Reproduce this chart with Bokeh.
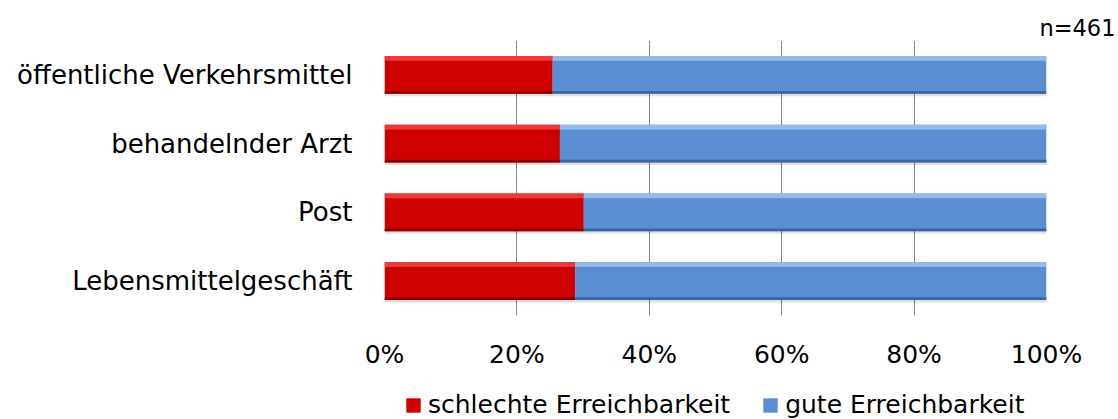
from bokeh.plotting import figure
from bokeh.layouts import column
from bokeh.models import (Range1d, FactorRange, FixedTicker, Legend, LegendItem,
                          Title, ColumnDataSource)
from bokeh.transform import dodge
from bokeh.embed import file_html
from bokeh.resources import INLINE

# ---- data ----
categories = ["Lebensmittelgeschäft", "Post", "behandelnder Arzt", "öffentliche Verkehrsmittel"]
schlecht = [28.8, 30.1, 26.5, 25.4]
gut = [71.2, 69.9, 73.5, 74.6]
series_names = ["schlechte Erreichbarkeit", "gute Erreichbarkeit"]
tick_values = [0, 20, 40, 60, 80, 100]
tick_labels = ["0%", "20%", "40%", "60%", "80%", "100%"]
n_label = "n=461"

FONT = "DejaVu Sans"
RED, RED_HI, RED_LO = "#CE0000", "#EC3A3A", "#8E0000"
BLUE, BLUE_HI, BLUE_LO = "#5A8ED3", "#93BAE8", "#3C66A0"

left_red = [0] * len(categories)
right_red = schlecht
left_blue = schlecht
right_blue = [a + b for a, b in zip(schlecht, gut)]

src = ColumnDataSource(dict(cat=categories, lr=left_red, rr=right_red,
                            lb=left_blue, rb=right_blue))

p = figure(width=1118, height=385, output_backend="svg", toolbar_location=None,
           x_range=Range1d(0, 100), y_range=FactorRange(factors=categories, range_padding=0),
           min_border_left=384, min_border_right=72, min_border_top=40, min_border_bottom=70)
p.outline_line_color = None
p.background_fill_color = "white"
p.border_fill_color = "white"

BH = 0.55
# soft shadow
for l, r in (("lr", "rr"), ("lb", "rb")):
    p.hbar(y=dodge("cat", -0.035, range=p.y_range), left=l, right=r, height=BH,
           source=src, fill_color="#000000", fill_alpha=0.12, line_color=None)

p.hbar(y="cat", left="lr", right="rr", height=BH, source=src,
       fill_color=RED, line_color=None)
p.hbar(y="cat", left="lb", right="rb", height=BH, source=src,
       fill_color=BLUE, line_color=None)
# bevel highlights / shades
p.hbar(y=dodge("cat", BH / 2 - 0.035, range=p.y_range), left="lr", right="rr", height=0.07,
       source=src, fill_color=RED_HI, line_color=None)
p.hbar(y=dodge("cat", BH / 2 - 0.035, range=p.y_range), left="lb", right="rb", height=0.07,
       source=src, fill_color=BLUE_HI, line_color=None)
p.hbar(y=dodge("cat", -BH / 2 + 0.02, range=p.y_range), left="lr", right="rr", height=0.04,
       source=src, fill_color=RED_LO, line_color=None)
p.hbar(y=dodge("cat", -BH / 2 + 0.02, range=p.y_range), left="lb", right="rb", height=0.04,
       source=src, fill_color=BLUE_LO, line_color=None)

# grid
p.xgrid.ticker = FixedTicker(ticks=tick_values)
p.xgrid.grid_line_color = "#868686"
p.xgrid.grid_line_width = 1
p.ygrid.grid_line_color = None

# x axis
p.xaxis.ticker = FixedTicker(ticks=tick_values)
p.xaxis.major_label_overrides = {v: t for v, t in zip(tick_values, tick_labels)}
p.xaxis.axis_line_color = None
p.xaxis.major_tick_line_color = None
p.xaxis.major_tick_out = 0
p.xaxis.major_tick_in = 0
p.xaxis.minor_tick_line_color = None
p.xaxis.major_label_standoff = 24
p.xaxis.major_label_text_font = FONT
p.xaxis.major_label_text_font_size = "25px"
p.xaxis.major_label_text_color = "black"

# y axis
p.yaxis.axis_line_color = None
p.yaxis.major_tick_line_color = None
p.yaxis.minor_tick_line_color = None
p.yaxis.major_label_standoff = 26
p.yaxis.major_label_text_font = FONT
p.yaxis.major_label_text_font_size = "26px"
p.yaxis.major_label_text_color = "black"

# sample size, top right
p.add_layout(Title(text=n_label, align="right", offset=-69, standoff=0,
                   text_font=FONT, text_font_size="22.5px", text_font_style="normal",
                   text_color="black"), "above")

# ---- legend strip (separate small figure below, frame aligned with the chart) ----
lg = figure(width=1118, height=34, output_backend="svg", toolbar_location=None,
            x_range=Range1d(0, 100), y_range=Range1d(0, 1), min_border=0)
lg.axis.visible = False
lg.grid.visible = False
lg.outline_line_color = None
# swatch renderers: same series, placed outside the strip's visible y-range
sw_src = ColumnDataSource(dict(y=[-5] * len(categories), lr=left_red, rr=right_red,
                               lb=left_blue, rb=right_blue))
sw_red = lg.hbar(y="y", left="lr", right="rr", height=0.5, source=sw_src,
                 fill_color=RED, line_color=None)
sw_blue = lg.hbar(y="y", left="lb", right="rb", height=0.5, source=sw_src,
                  fill_color=BLUE, line_color=None)
legend = Legend(items=[LegendItem(label=series_names[0], renderers=[sw_red]),
                       LegendItem(label=series_names[1], renderers=[sw_blue])],
                orientation="horizontal", location=(20, 0),
                padding=0, margin=0, spacing=31, label_standoff=6,
                glyph_width=18, glyph_height=18,
                border_line_color=None, background_fill_alpha=0,
                label_text_font=FONT, label_text_font_size="25px",
                label_text_color="black")
lg.add_layout(legend, "center")

layout = column(p, lg, spacing=0)
open("out.html", "w").write(file_html(layout, INLINE))
